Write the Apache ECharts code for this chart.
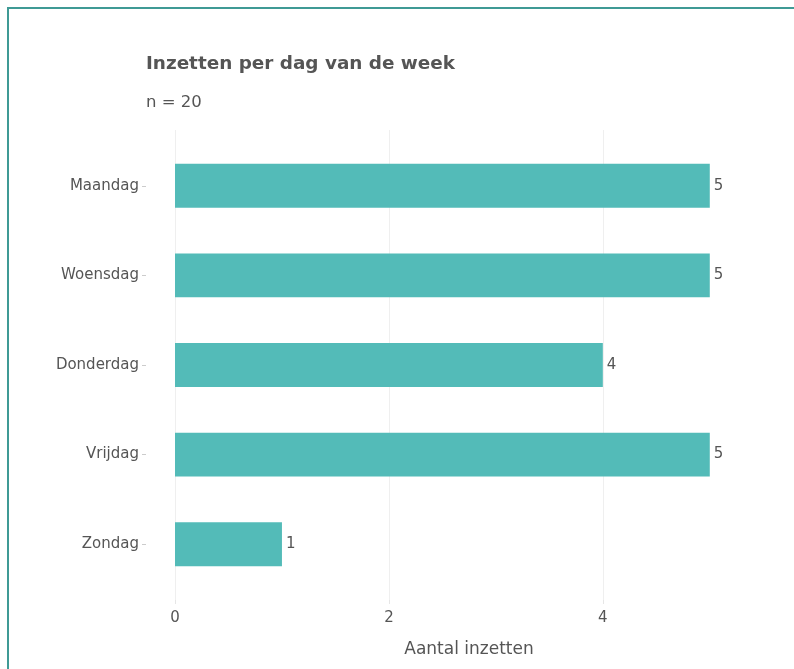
<!DOCTYPE html>
<html>
<head>
<meta charset="utf-8">
<title>Inzetten per dag van de week</title>
<script src="https://cdn.jsdelivr.net/npm/echarts@6/dist/echarts.min.js"></script>
<style>
  html, body { margin: 0; padding: 0; background: #ffffff; }
  #chart { width: 794px; height: 669px; }
</style>
</head>
<body>
<div id="chart"></div>
<script>
// Days of the week (top to bottom) and number of deployments per day
const days = ['Maandag', 'Woensdag', 'Donderdag', 'Vrijdag', 'Zondag'];
const counts = [5, 5, 4, 5, 1];
const xTicks = [0, 2, 4];

const titleText = 'Inzetten per dag van de week';
const subtitleText = 'n = 20';
const xTitle = 'Aantal inzetten';

const textColor = '#555555';
const barColor = '#53bbb8';
const frameColor = '#3f9a95';
const fontFamily = 'DejaVu Sans, Verdana, sans-serif';

const chart = echarts.init(document.getElementById('chart'), null, { renderer: 'canvas' });

// category axis lists bottom-to-top, so reverse for top-to-bottom reading
const yCats = days.slice().reverse();
const yVals = counts.slice().reverse();

const xMax = 5.75;

const option = {
  animation: false,
  backgroundColor: '#ffffff',
  textStyle: { fontFamily: fontFamily },
  title: [
    {
      text: titleText,
      left: 141, top: 50,
      textStyle: { fontFamily: fontFamily, fontSize: 18.4, fontWeight: 'bold', color: textColor }
    },
    {
      text: subtitleText,
      left: 141, top: 89,
      textStyle: { fontFamily: fontFamily, fontSize: 16.5, fontWeight: 'normal', color: textColor }
    }
  ],
  grid: [
    // bars
    { left: 175, top: 141, width: 615, height: 448, containLabel: false },
    // panel for the vertical guide lines and the value axis
    { left: 175, top: 130, width: 615, height: 470, containLabel: false },
    // panel edge carrying the category tick marks
    { left: 146, top: 141, width: 10, height: 448, containLabel: false }
  ],
  xAxis: [
    {
      type: 'value', gridIndex: 0, min: 0, max: xMax,
      show: false
    },
    {
      type: 'value', gridIndex: 1, min: 0, max: xMax,
      axisLine: { show: false },
      axisTick: { show: true, length: 4, customValues: xTicks, lineStyle: { color: '#e6e6e6' } },
      axisLabel: {
        color: textColor, fontSize: 15, fontFamily: fontFamily, margin: 11,
        customValues: xTicks
      },
      splitLine: { show: true, lineStyle: { color: '#efefef', width: 1 } }
    },
    {
      type: 'value', gridIndex: 2, show: false
    }
  ],
  yAxis: [
    {
      type: 'category', gridIndex: 0, data: yCats,
      axisLine: { show: false },
      axisTick: { show: false },
      axisLabel: { color: textColor, fontSize: 15, fontFamily: fontFamily, margin: 36 },
      splitLine: { show: false }
    },
    {
      type: 'value', gridIndex: 1, show: false
    },
    {
      type: 'category', gridIndex: 2, data: yCats,
      axisLine: { show: false },
      axisTick: { show: true, length: 4, alignWithLabel: true, lineStyle: { color: '#cccccc' } },
      axisLabel: { show: false },
      splitLine: { show: false }
    }
  ],
  series: [
    {
      type: 'bar',
      xAxisIndex: 0, yAxisIndex: 0,
      data: yVals,
      barWidth: '49%',
      itemStyle: { color: barColor },
      label: {
        show: true, position: 'right', distance: 4,
        color: textColor, fontSize: 15, fontFamily: fontFamily
      }
    }
  ],
  graphic: [
    {
      type: 'rect',
      shape: { x: 8, y: 8, width: 820, height: 720 },
      style: { fill: 'none', stroke: frameColor, lineWidth: 2 },
      silent: true
    },
    {
      type: 'text',
      x: 469, y: 650,
      style: {
        text: xTitle, fill: textColor, font: '17px ' + fontFamily,
        align: 'center', verticalAlign: 'middle'
      }
    }
  ]
};

chart.setOption(option);
</script>
</body>
</html>
